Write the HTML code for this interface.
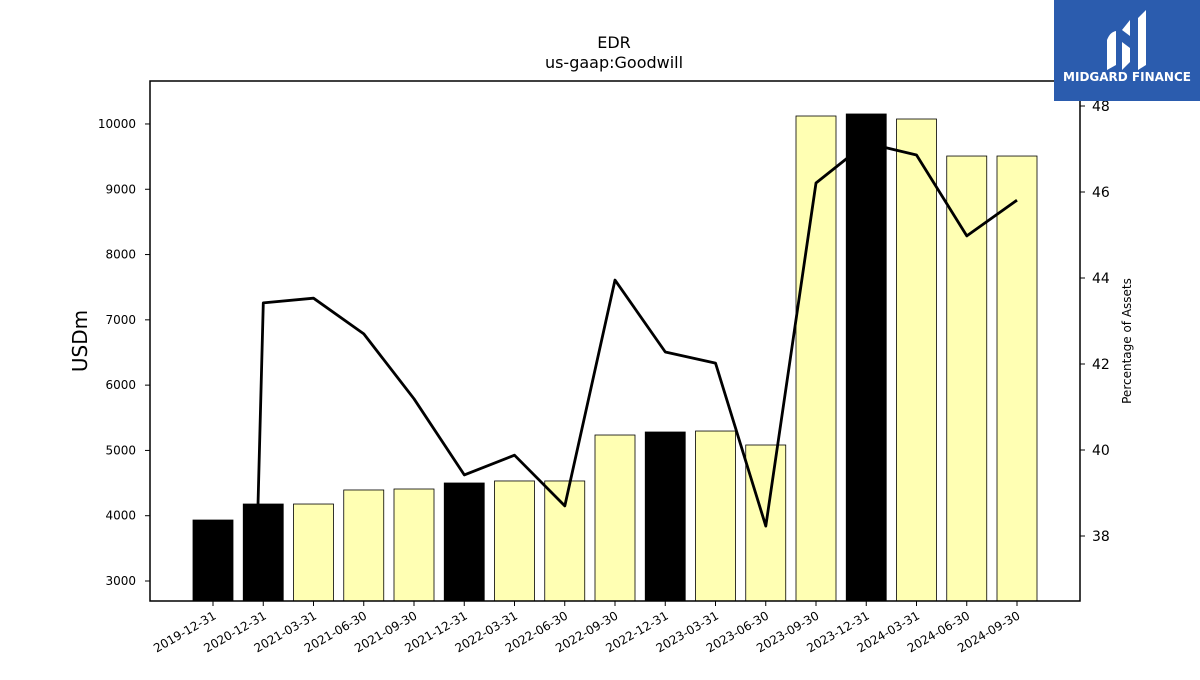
<!DOCTYPE html>
<html><head><meta charset="utf-8"><style>
body{margin:0;background:#fff;font-family:"Liberation Sans","DejaVu Sans",sans-serif;}
</style></head><body>
<svg width="1200" height="675" xmlns="http://www.w3.org/2000/svg" font-family="DejaVu Sans, Liberation Sans, sans-serif">
<text x="614" y="48" font-size="16" text-anchor="middle">EDR</text>
<text x="614" y="68" font-size="16" text-anchor="middle">us-gaap:Goodwill</text>
<g id="plot"></g>
<rect x="150" y="81" width="930" height="520" fill="none" stroke="#000" stroke-width="1.5"/>
<text transform="translate(87,341) rotate(-90)" font-size="20" text-anchor="middle">USDm</text>
<text transform="translate(1131,341) rotate(-90)" font-size="12" text-anchor="middle">Percentage of Assets</text>
<g>
<rect x="1054" y="0" width="146" height="101" fill="#2b5cae"/>
<path d="M1107 70 L1107 40 Q1110 32 1116 31 L1116 65 Z M1122 30 L1130 20 L1130 36 Z M1122 42 L1130 48 L1130 62 L1122 70 Z M1138 18 L1146 10 L1146 65 L1138 70 Z" fill="#fff"/>
<text x="1127" y="81" font-size="12" font-weight="bold" fill="#fff" text-anchor="middle">MIDGARD FINANCE</text>
</g>
</svg>
<script>
const categories=["2019-12-31","2020-12-31","2021-03-31","2021-06-30","2021-09-30","2021-12-31","2022-03-31","2022-06-30","2022-09-30","2022-12-31","2023-03-31","2023-06-30","2023-09-30","2023-12-31","2024-03-31","2024-06-30","2024-09-30"];
const goodwill=[3934,4179,4179,4394,4409,4501,4532,4532,5236,5282,5297,5083,10122,10153,10076,9509,9509];
const annual=[1,1,0,0,0,1,0,0,0,1,0,0,0,1,0,0,0];
const lineDates=["2020-11-20","2020-12-31","2021-03-31","2021-06-30","2021-09-30","2021-12-31","2022-03-31","2022-06-30","2022-09-30","2022-12-31","2023-03-31","2023-06-30","2023-09-30","2023-12-31","2024-03-31","2024-06-30","2024-09-30"];
const pctAssets=[38.37,43.42,43.53,42.70,41.19,39.42,39.88,38.70,43.95,42.28,42.02,38.23,46.21,47.14,46.86,44.98,45.81];
const leftTicks=[3000,4000,5000,6000,7000,8000,9000,10000];
const rightTicks=[38,40,42,44,46,48];
const NS="http://www.w3.org/2000/svg";
const g=document.getElementById('plot');
const X0=213,DX=50.25,BW=40;
const xi=i=>X0+i*DX;
const yL=v=>581-(v-3000)*65.29/1000;
const yR=v=>106+(48-v)*43;
const t=d=>new Date(d).getTime();
function xDate(d){const tv=t(d);for(let i=0;i<categories.length-1;i++){const a=t(categories[i]),b=t(categories[i+1]);if(tv>=a&&tv<=b)return xi(i+(tv-a)/(b-a));}return xi(categories.length-1);}
function mk(tag,at){const e=document.createElementNS(NS,tag);for(const k in at)e.setAttribute(k,at[k]);g.appendChild(e);return e;}
goodwill.forEach((v,i)=>{const y=yL(v);const r=mk('rect',{x:xi(i)-BW/2,y:y,width:BW,height:601-y,fill:annual[i]?'#000':'#ffffb3',stroke:'#000','stroke-width':0.8});


const tk=mk('line',{x1:xi(i),x2:xi(i),y1:601,y2:606,stroke:'#000'});


const lb=mk('text',{transform:`translate(${xi(i)+4},618) rotate(-30)`,'font-size':12,'text-anchor':'end'});lb.textContent=categories[i];

});
const pts=pctAssets.map((v,i)=>xDate(lineDates[i]).toFixed(1)+','+yR(v).toFixed(1)).join(' ');
const pl=mk('polyline',{points:pts,fill:'none',stroke:'#000','stroke-width':2.8,'stroke-linejoin':'round'});


leftTicks.forEach(v=>{const y=yL(v);const l=mk('line',{x1:145,x2:150,y1:y,y2:y,stroke:'#000'});


const tx=mk('text',{x:136,y:y+4,'font-size':12,'text-anchor':'end'});tx.textContent=v;

});
rightTicks.forEach(v=>{const y=yR(v);const l=mk('line',{x1:1080,x2:1085,y1:y,y2:y,stroke:'#000'});


const tx=mk('text',{x:1092,y:y+5,'font-size':14});tx.textContent=v;

});
</script>
</body></html>
